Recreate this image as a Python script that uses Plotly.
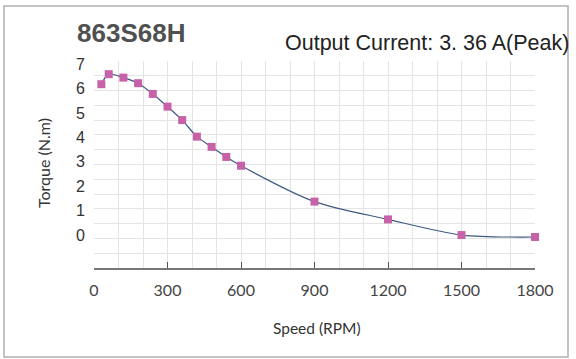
import plotly.graph_objects as go

speed = [30, 60, 120, 180, 240, 300, 360, 420, 480, 540, 600, 900, 1200, 1500, 1800]
torque = [6.18, 6.59, 6.45, 6.22, 5.78, 5.26, 4.71, 4.03, 3.61, 3.20, 2.84, 1.37, 0.64, 0.0, -0.08]
x_ticks = [0, 300, 600, 900, 1200, 1500, 1800]
y_ticks = [0, 1, 2, 3, 4, 5, 6, 7]
model = "863S68H"
subtitle = "Output Current: 3. 36 A(Peak)"
x_title = "Speed (RPM)"
y_title = "Torque (N.m)"

fig = go.Figure()
fig.add_trace(go.Scatter(
    x=speed, y=torque, mode="lines+markers",
    line=dict(color="#3d5b80", width=1.2, shape="spline", smoothing=0.8),
    marker=dict(symbol="square", size=8, color="#c862a8"),
    cliponaxis=False, showlegend=False,
))

W, H = 576, 359
L, R, T, B = 94, 535, 61, 268
pw, ph = R - L, B - T

def px(x):
    return (x - L) / pw

def py(y):
    return (B - y) / ph

fig.update_layout(
    width=W, height=H,
    margin=dict(l=L, r=W - R, t=T, b=H - B, pad=0),
    paper_bgcolor="white", plot_bgcolor="white",
    font=dict(family="Liberation Sans, Arial, sans-serif", color="#333"),
    xaxis=dict(
        range=[0, 1800], tickvals=x_ticks, ticktext=[str(v) for v in x_ticks],
        showgrid=True, gridcolor="#e4e4e4", gridwidth=1,
        minor=dict(dtick=100, tick0=0, showgrid=True, gridcolor="#e4e4e4", gridwidth=1),
        showline=True, linecolor="#777", linewidth=1.5,
        ticks="inside", ticklen=6, tickcolor="#555", tickwidth=1.3,
        zeroline=False, ticklabelstandoff=7,
        tickfont=dict(family="Lato, sans-serif", size=16, color="#444"),
    ),
    yaxis=dict(
        range=[-1.35, 7.13], tickvals=y_ticks, ticktext=[str(v) for v in y_ticks],
        showgrid=False,
        minor=dict(tick0=-1.35, dtick=0.6057, showgrid=True, gridcolor="#e4e4e4", gridwidth=1),
        showline=False, zeroline=False, ticks="", ticklabelstandoff=8,
        tickfont=dict(family="Liberation Sans, Arial, sans-serif", size=16, color="#333"),
    ),
    shapes=[dict(type="rect", xref="paper", yref="paper",
                 x0=px(4), x1=px(568), y0=py(357), y1=py(6),
                 line=dict(color="#b0b0b0", width=1.5), layer="below")],
    annotations=[
        dict(text="<b>" + model + "</b>", xref="paper", yref="paper",
             x=px(75), y=py(33), xanchor="left", yanchor="middle", showarrow=False,
             font=dict(family="Liberation Sans, Arial, sans-serif", size=26, color="#505050")),
        dict(text=subtitle, xref="paper", yref="paper",
             x=px(283), y=py(43), xanchor="left", yanchor="middle", showarrow=False,
             font=dict(family="Liberation Sans, Arial, sans-serif", size=21.5, color="#222")),
        dict(text=y_title, xref="paper", yref="paper", textangle=-90,
             x=px(43), y=py(163), xanchor="center", yanchor="middle", showarrow=False,
             font=dict(family="Lato, sans-serif", size=16, color="#333")),
        dict(text=x_title, xref="paper", yref="paper",
             x=px(317), y=py(328), xanchor="center", yanchor="middle", showarrow=False,
             font=dict(family="Lato, sans-serif", size=15.5, color="#333")),
    ],
)

fig.write_html("out.html", config={"displayModeBar": False},
               post_script="document.body.style.margin='0';")
